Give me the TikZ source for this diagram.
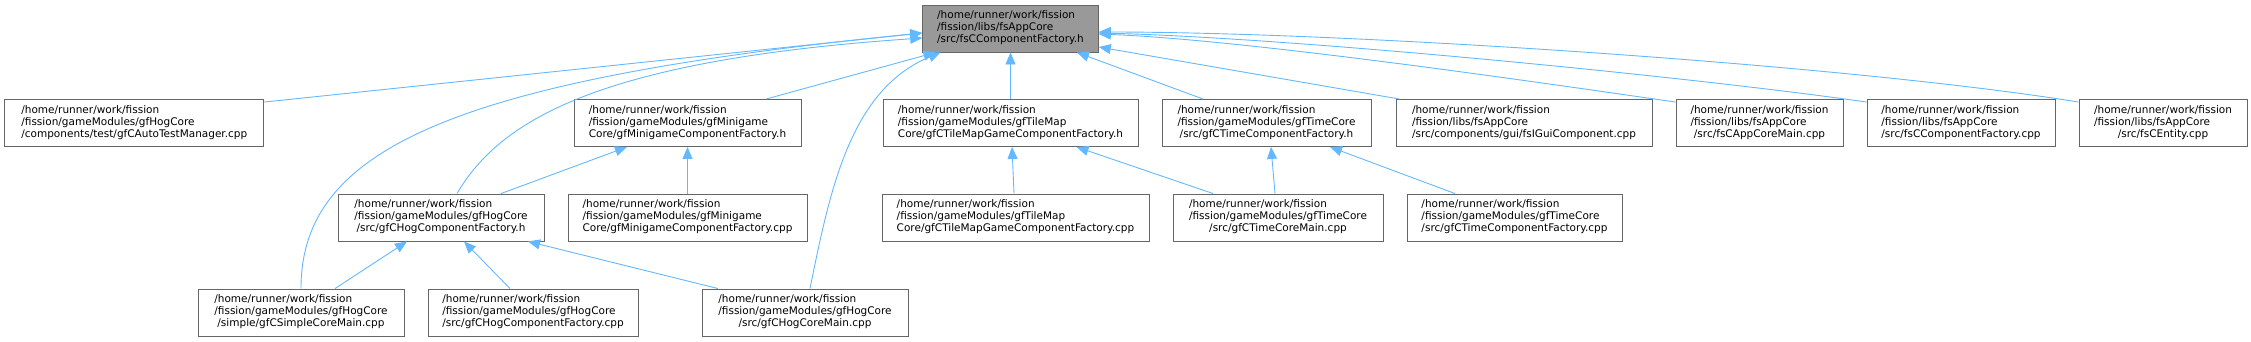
\documentclass[tikz,border=0pt]{standalone}
\usepackage{fontspec}
\setmainfont{DejaVu Sans}
\usetikzlibrary{arrows.meta,calc}
\definecolor{edgec}{HTML}{63B8FF}
\definecolor{boxc}{HTML}{666666}
\definecolor{topfill}{HTML}{999999}
\newcommand{\lbl}[3]{\begin{tabular}{@{}l@{}}#1\\#2\\\multicolumn{1}{@{}c@{}}{#3}\end{tabular}}
\begin{document}
\begin{tikzpicture}[x=1pt,y=-1pt,
  file/.style={draw=boxc, line width=0.9pt, fill=white, minimum height=47pt, inner sep=0pt,
    font=\fontsize{10.5}{12}\selectfont, text=black},
  arr/.style={draw=edgec, line width=0.9pt, -{Triangle[length=12pt,width=10pt,fill=edgec]}}]
\useasboundingbox (0,0) rectangle (2251,341);
% level 1
\node[file, fill=topfill, minimum width=175.6pt] (top) at (1010.5,28.5) {\lbl{/home/runner/work/fission}{/fission/libs/fsAppCore}{/src/fsCComponentFactory.h}};
% level 2
\node[file, minimum width=259pt] (autotest) at (134.3,123) {\lbl{/home/runner/work/fission}{/fission/gameModules/gfHogCore}{/components/test/gfCAutoTestManager.cpp}};
\node[file, minimum width=227pt] (minih) at (687.5,123) {\lbl{/home/runner/work/fission}{/fission/gameModules/gfMinigame}{Core/gfMinigameComponentFactory.h}};
\node[file, minimum width=255pt] (tileh) at (1010.5,123) {\lbl{/home/runner/work/fission}{/fission/gameModules/gfTileMap}{Core/gfCTileMapGameComponentFactory.h}};
\node[file, minimum width=209pt] (timeh) at (1266.5,123) {\lbl{/home/runner/work/fission}{/fission/gameModules/gfTimeCore}{/src/gfCTimeComponentFactory.h}};
\node[file, minimum width=256pt] (gui) at (1524,123) {\lbl{/home/runner/work/fission}{/fission/libs/fsAppCore}{/src/components/gui/fsIGuiComponent.cpp}};
\node[file, minimum width=167pt] (appmain) at (1759.5,123) {\lbl{/home/runner/work/fission}{/fission/libs/fsAppCore}{/src/fsCAppCoreMain.cpp}};
\node[file, minimum width=188pt] (cfcpp) at (1961,123) {\lbl{/home/runner/work/fission}{/fission/libs/fsAppCore}{/src/fsCComponentFactory.cpp}};
\node[file, minimum width=168pt] (entity) at (2163,123) {\lbl{/home/runner/work/fission}{/fission/libs/fsAppCore}{/src/fsCEntity.cpp}};
% level 3
\node[file, minimum width=206pt] (hogh) at (441,217.5) {\lbl{/home/runner/work/fission}{/fission/gameModules/gfHogCore}{/src/gfCHogComponentFactory.h}};
\node[file, minimum width=239pt] (minicpp) at (687.5,217.5) {\lbl{/home/runner/work/fission}{/fission/gameModules/gfMinigame}{Core/gfMinigameComponentFactory.cpp}};
\node[file, minimum width=267pt] (tilecpp) at (1015.5,217.5) {\lbl{/home/runner/work/fission}{/fission/gameModules/gfTileMap}{Core/gfCTileMapGameComponentFactory.cpp}};
\node[file, minimum width=210pt] (timemain) at (1278,217.5) {\lbl{/home/runner/work/fission}{/fission/gameModules/gfTimeCore}{/src/gfCTimeCoreMain.cpp}};
\node[file, minimum width=215pt] (timecpp) at (1514.5,217.5) {\lbl{/home/runner/work/fission}{/fission/gameModules/gfTimeCore}{/src/gfCTimeComponentFactory.cpp}};
% level 4
\node[file, minimum width=206pt] (simplemain) at (301,312.5) {\lbl{/home/runner/work/fission}{/fission/gameModules/gfHogCore}{/simple/gfCSimpleCoreMain.cpp}};
\node[file, minimum width=210pt] (hogcpp) at (533,312.5) {\lbl{/home/runner/work/fission}{/fission/gameModules/gfHogCore}{/src/gfCHogComponentFactory.cpp}};
\node[file, minimum width=206pt] (hogmain) at (805,312.5) {\lbl{/home/runner/work/fission}{/fission/gameModules/gfHogCore}{/src/gfCHogCoreMain.cpp}};
% edges to top
\draw[arr] ([yshift=-3pt]autotest.north east) -- ([yshift=-4.5pt]top.west);
\draw[arr] (simplemain.north) .. controls (301,150) and (450,80) .. ([yshift=-4.5pt]top.west);
\draw[arr] ([xshift=16pt]hogh.north) .. controls (500,120) and (600,60) .. ([yshift=-9.5pt]top.west);
\draw[arr] ([xshift=78.5pt]minih.north) -- ([xshift=-75pt]top.south);
\draw[arr] ([xshift=5pt]hogmain.north) .. controls (830,190) and (850,90) .. ([xshift=-70pt]top.south);
\draw[arr] (tileh.north) -- (top.south);
\draw[arr] ([xshift=-63.5pt]timeh.north) -- ([xshift=66.5pt]top.south);
\draw[arr] ([xshift=4pt]gui.north west) -- ([yshift=-18.5pt]top.east);
\draw[arr] ([yshift=-3pt]appmain.north west) .. controls (1550,84) and (1250,40) .. ([yshift=-5.5pt]top.east);
\draw[arr] ([yshift=-3pt]cfcpp.north west) .. controls (1700,78) and (1300,38) .. ([yshift=-4.5pt]top.east);
\draw[arr] ([yshift=-3pt]entity.north west) .. controls (1850,65) and (1350,32) .. ([yshift=-3.5pt]top.east);
% lower edges
\draw[arr] ([xshift=60pt]hogh.north) -- ([xshift=-60.5pt]minih.south);
\draw[arr] (minicpp.north) -- (minih.south);
\draw[arr] ([xshift=34pt]simplemain.north) -- ([xshift=-34pt]hogh.south);
\draw[arr] ([xshift=-23pt]hogcpp.north) -- ([xshift=23pt]hogh.south);
\draw[arr] ([xshift=-87pt]hogmain.north) -- ([xshift=87pt]hogh.south);
\draw[arr] ([xshift=-1.5pt]tilecpp.north) -- ([xshift=1.5pt]tileh.south);
\draw[arr] ([xshift=-65pt]timemain.north) -- ([xshift=66pt]tileh.south);
\draw[arr] ([xshift=-3pt]timemain.north) -- ([xshift=4.5pt]timeh.south);
\draw[arr] ([xshift=-59.5pt]timecpp.north) -- ([xshift=63.5pt]timeh.south);
\end{tikzpicture}
\end{document}
